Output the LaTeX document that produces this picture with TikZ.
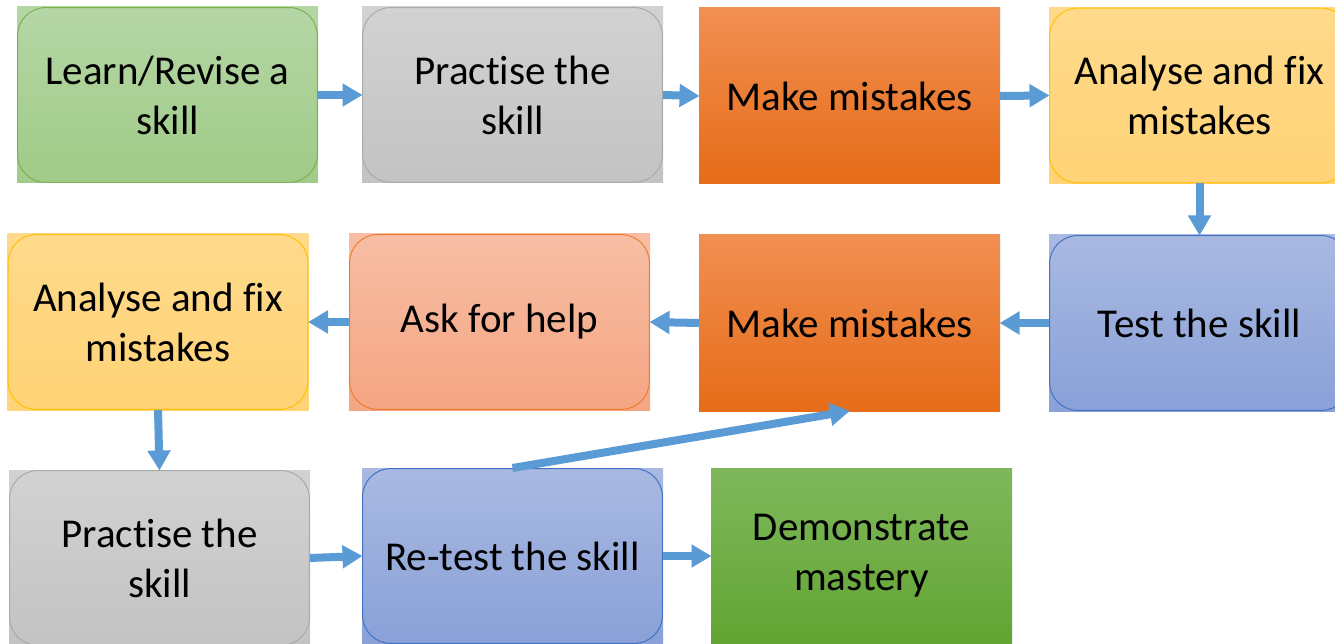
\documentclass[tikz,border=0pt]{standalone}
\usepackage{fontspec}
\setmainfont{Carlito}[Ligatures={NoCommon}]
\usetikzlibrary{arrows.meta}
\definecolor{gtop}{RGB}{181,214,165}
\definecolor{gbot}{RGB}{160,203,136}
\definecolor{gline}{RGB}{122,178,82}
\definecolor{ytop}{RGB}{210,210,210}
\definecolor{ybot}{RGB}{195,195,195}
\definecolor{yline}{RGB}{170,170,170}
\definecolor{otop}{RGB}{241,143,82}
\definecolor{obot}{RGB}{230,108,24}
\definecolor{ltop}{RGB}{255,218,140}
\definecolor{lbot}{RGB}{255,211,118}
\definecolor{lline}{RGB}{255,192,0}
\definecolor{stop}{RGB}{247,190,165}
\definecolor{sbot}{RGB}{245,165,130}
\definecolor{sline}{RGB}{237,125,49}
\definecolor{btop}{RGB}{169,185,225}
\definecolor{bbot}{RGB}{137,161,216}
\definecolor{bline}{RGB}{68,114,196}
\definecolor{dtop}{RGB}{127,184,92}
\definecolor{dbot}{RGB}{98,164,50}
\definecolor{arrcol}{RGB}{91,155,213}
\tikzset{
  box/.style={rectangle, minimum width=301pt, minimum height=176pt, inner sep=0pt,
    outer sep=0pt, align=center, font=\fontsize{41}{50}\selectfont},
  rborder/.style={path picture={\draw[#1, line width=1pt, rounded corners=28pt]
    ([shift={(0.6pt,0.6pt)}]path picture bounding box.south west) rectangle
    ([shift={(-0.6pt,-0.6pt)}]path picture bounding box.north east);}},
  greenbox/.style={box, top color=gtop, bottom color=gbot, rborder=gline},
  graybox/.style={box, top color=ytop, bottom color=ybot, rborder=yline},
  orangebox/.style={box, top color=otop, bottom color=obot},
  yellowbox/.style={box, top color=ltop, bottom color=lbot, rborder=lline},
  salmonbox/.style={box, top color=stop, bottom color=sbot, rborder=sline},
  bluebox/.style={box, top color=btop, bottom color=bbot, rborder=bline},
  darkgreenbox/.style={box, top color=dtop, bottom color=dbot},
  arr/.style={draw=arrcol, line width=8pt, -{Triangle[width=22pt,length=20pt]}, shorten >=-0.5pt}
}
\begin{document}
\begin{tikzpicture}[x=1pt,y=-1pt]
\useasboundingbox (0,0) rectangle (1335,644);
\fill[white] (0,0) rectangle (1335,644);
\node[greenbox] (learn) at (167.5,95) {Learn/Revise a\\skill};
\node[graybox] (prac1) at (512.5,95) {Practise the\\skill};
\node[orangebox] (make1) at (849.5,96) {Make mistakes};
\node[yellowbox] (an1) at (1199.5,95.5) {Analyse and fix\\mistakes};
\node[yellowbox] (an2) at (158,322) {Analyse and fix\\mistakes};
\node[salmonbox] (ask) at (499.5,322) {Ask for help};
\node[orangebox] (make2) at (849.5,323) {Make mistakes};
\node[bluebox] (test) at (1199.5,323) {Test the skill};
\node[graybox] (prac2) at (159.5,558) {Practise the\\skill};
\node[bluebox] (retest) at (512.5,556) {Re-test the skill};
\node[darkgreenbox] (demo) at (861.5,556) {Demonstrate\\mastery};
\draw[arr] (learn.east) -- (prac1.west);
\draw[arr] (prac1.east) -- (make1.west);
\draw[arr] (make1.east) -- (an1.west);
\draw[arr] (an1.south) -- (test.north);
\draw[arr] (test.west) -- (make2.east);
\draw[arr] (make2.west) -- (ask.east);
\draw[arr] (ask.west) -- (an2.east);
\draw[arr] (an2.south) -- (prac2.north);
\draw[arr] (prac2.east) -- (retest.west);
\draw[arr] (retest.east) -- (demo.west);
\draw[arr] (retest.north) -- (make2.south);
\end{tikzpicture}
\end{document}
